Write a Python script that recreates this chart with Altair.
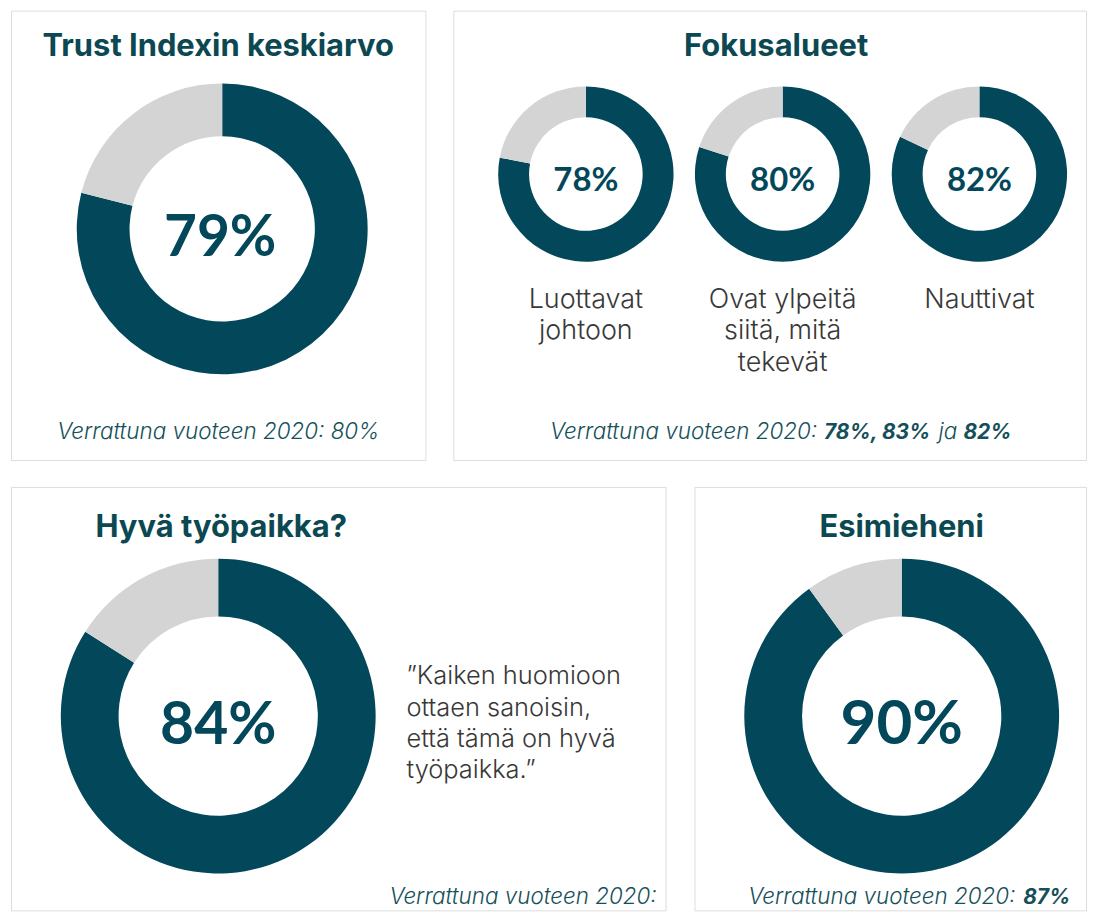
import math
import altair as alt
import pandas as pd

# ---------------- data ----------------
titles = ["Trust Indexin keskiarvo", "Fokusalueet", "Hyvä työpaikka?", "Esimieheni"]
trust_score = [79]
focus_items = ["Luottavat\njohtoon", "Ovat ylpeitä\nsiitä, mitä\ntekevät", "Nauttivat"]
focus_scores = [78, 80, 82]
good_score = [84]
boss_score = [90]
foot_prefix = "Verrattuna vuoteen 2020:"
trust_prev = "80%"
focus_prev = ["78%, 83%", "ja", "82%"]
boss_prev = "87%"
quote = "”Kaiken huomioon\nottaen sanoisin,\nettä tämä on hyvä\ntyöpaikka.”"

# ---------------- style ----------------
DARK = "#02485A"
GRAY = "#D4D4D4"
TITLE_C = "#0B4852"
TEXT_C = "#383838"
FOOT_C = "#15505A"
BORDER = "#A7B3BC"
FONT = "Inter"
NUM_FONT = "Lato"


def donut_frame(items, scores):
    rows = []
    for it, s in zip(items, scores):
        rows.append({"item": it, "part": "score", "order": 0, "value": s})
        rows.append({"item": it, "part": "rest", "order": 1, "value": 100 - s})
    return pd.DataFrame(rows)


def label_frame(items, scores):
    return pd.DataFrame({"item": items, "score": scores})


def donut(items, scores, inner, outer, x_enc, y_enc):
    return (
        alt.Chart(donut_frame(items, scores))
        .transform_window(end="sum(value)", groupby=["item"], sort=[alt.SortField("order")])
        .transform_calculate(start="datum.end - datum.value")
        .mark_arc(innerRadius=inner, outerRadius=outer)
        .encode(
            theta=alt.Theta("start:Q", scale=alt.Scale(domain=[0, 100], range=[0, 2 * math.pi])),
            theta2="end:Q",
            color=alt.Color("part:N", scale=alt.Scale(domain=["score", "rest"], range=[DARK, GRAY]), legend=None),
            x=x_enc,
            y=y_enc,
        )
    )


def center_label(items, scores, size, x_enc, y_enc):
    return (
        alt.Chart(label_frame(items, scores))
        .transform_calculate(lab="datum.score + '%'")
        .mark_text(font=NUM_FONT, fontSize=size, fontWeight=700, color=DARK, align="center", baseline="alphabetic")
        .encode(text="lab:N", x=x_enc, y=y_enc)
    )


def txt(s, x, y, size, weight=400, style="normal", color=TEXT_C, align="center", line_height=None):
    kw = dict(font=FONT, fontSize=size, fontWeight=weight, fontStyle=style, color=color,
              align=align, baseline="alphabetic", lineBreak="\n")
    if line_height:
        kw["lineHeight"] = line_height
    return alt.Chart(pd.DataFrame({"t": [s]})).mark_text(**kw).encode(
        text="t:N", x=alt.value(x), y=alt.value(y)
    )


def title(s, x, y):
    return txt(s, x, y, 31, weight=700, color=TITLE_C)


FOOT = dict(style="italic", color=FOOT_C)
FS = 22.5

# ---------- panel 1 ----------
p1 = alt.layer(
    title(titles[0], 208, 46),
    donut(["t"], trust_score, 93, 146, alt.value(212), alt.value(219)),
    center_label(["t"], trust_score, 57, alt.value(210), alt.value(246)),
    txt(f"{foot_prefix} {trust_prev}", 208, 430, FS, weight=300, **FOOT),
).properties(width=416, height=451)

# ---------- panel 2 ----------
fx = alt.X("item:N", sort=focus_items,
           scale=alt.Scale(type="point", range=[133, 528], padding=0), axis=None)
p2 = alt.layer(
    title(titles[1], 324, 46),
    donut(focus_items, focus_scores, 57, 88, fx, alt.value(164)),
    center_label(focus_items, focus_scores, 33, fx, alt.value(181)),
    alt.Chart(label_frame(focus_items, focus_scores))
    .mark_text(font=FONT, fontSize=27, fontWeight=300, color=TEXT_C, align="center",
               baseline="alphabetic", lineBreak="\n", lineHeight=32)
    .encode(text="item:N", x=fx, y=alt.value(298)),
    txt(foot_prefix, 97, 430, FS, weight=300, align="left", **FOOT),
    txt(focus_prev[0], 372, 430, 21, weight=700, align="left", **FOOT),
    txt(focus_prev[1], 487, 430, FS, weight=300, align="left", **FOOT),
    txt(focus_prev[2], 512, 430, 21, weight=700, align="left", **FOOT),
).properties(width=635, height=451)

# ---------- panel 3 ----------
p3 = alt.layer(
    title(titles[2], 211, 50),
    donut(["g"], good_score, 100, 158, alt.value(208), alt.value(230)),
    center_label(["g"], good_score, 59, alt.value(208), alt.value(258)),
    txt(quote, 397, 198, 25.5, weight=300, color=TEXT_C, align="left", line_height=31.5),
    txt(foot_prefix, 648, 419, FS, weight=300, align="right", **FOOT),
).properties(width=657, height=425)

# ---------- panel 4 ----------
p4 = alt.layer(
    title(titles[3], 208, 50),
    donut(["b"], boss_score, 100, 158, alt.value(208), alt.value(230)),
    center_label(["b"], boss_score, 62, alt.value(208), alt.value(258)),
    txt(foot_prefix, 54, 419, FS, weight=300, align="left", **FOOT),
    txt(boss_prev, 330, 419, 21, weight=700, align="left", **FOOT),
).properties(width=393, height=425)

chart = (
    alt.vconcat(
        alt.hconcat(p1, p2, spacing=26),
        alt.hconcat(p3, p4, spacing=27),
        spacing=25,
    )
    .properties(padding={"left": 2, "top": 0, "right": 0, "bottom": 0})
    .configure_view(stroke=BORDER, strokeWidth=1.5)
    .configure(background="white")
)

chart.save("out.html", embed_options={"renderer": "svg", "actions": False})
